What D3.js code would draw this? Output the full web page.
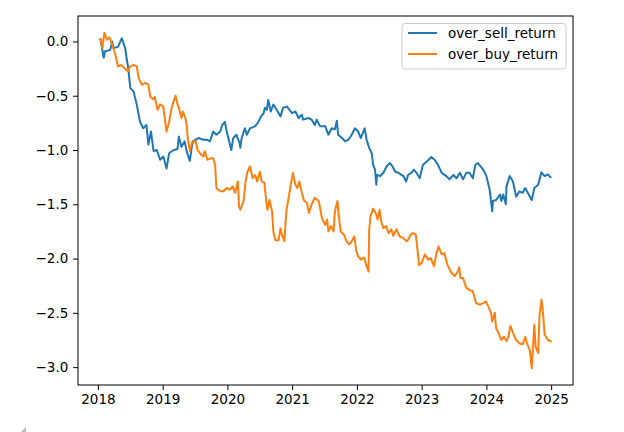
<!DOCTYPE html>
<html>
<head>
<meta charset="utf-8">
<script src="https://cdn.jsdelivr.net/npm/d3@7"></script>
<style>
  html, body { margin: 0; padding: 0; background: #fff; }
  svg { display: block; }
  text { font-family: "DejaVu Sans", sans-serif; }
</style>
</head>
<body>
<svg id="chart" width="624" height="432"></svg>
<script>
// ---- data (time in decimal years) ----
const seriesNames = ["over_sell_return", "over_buy_return"];
const xTickLabels = [2018, 2019, 2020, 2021, 2022, 2023, 2024, 2025];
const yTickValues = [-3.0, -2.5, -2.0, -1.5, -1.0, -0.5, 0.0];

const sellYears = [2018.04,2018.06,2018.09,2018.11,2018.19,2018.22,2018.24,2018.31,2018.37,2018.42,2018.45,2018.47,2018.50,2018.55,2018.60,2018.65,2018.70,2018.75,2018.78,2018.82,2018.86,2018.91,2018.96,2019.01,2019.06,2019.10,2019.17,2019.23,2019.25,2019.29,2019.34,2019.37,2019.42,2019.45,2019.47,2019.55,2019.63,2019.68,2019.73,2019.78,2019.83,2019.89,2019.92,2019.96,2019.99,2020.06,2020.09,2020.14,2020.19,2020.20,2020.22,2020.27,2020.30,2020.35,2020.43,2020.48,2020.52,2020.56,2020.58,2020.61,2020.63,2020.67,2020.71,2020.76,2020.82,2020.86,2020.92,2021.00,2021.05,2021.10,2021.15,2021.17,2021.25,2021.30,2021.35,2021.38,2021.43,2021.51,2021.56,2021.61,2021.66,2021.69,2021.71,2021.77,2021.82,2021.87,2021.92,2021.97,2022.02,2022.06,2022.12,2022.15,2022.19,2022.23,2022.25,2022.28,2022.30,2022.31,2022.36,2022.41,2022.46,2022.51,2022.55,2022.59,2022.64,2022.72,2022.76,2022.79,2022.84,2022.88,2022.92,2022.97,2023.02,2023.08,2023.15,2023.20,2023.25,2023.31,2023.38,2023.43,2023.49,2023.54,2023.59,2023.64,2023.69,2023.74,2023.79,2023.83,2023.87,2023.95,2024.00,2024.05,2024.09,2024.10,2024.15,2024.21,2024.23,2024.26,2024.30,2024.31,2024.36,2024.41,2024.46,2024.51,2024.56,2024.60,2024.64,2024.70,2024.74,2024.80,2024.85,2024.90,2024.95,2024.99];
const sellValues = [0.02,-0.05,-0.15,-0.09,-0.08,0.0,-0.06,-0.05,0.03,-0.06,-0.18,-0.25,-0.43,-0.46,-0.58,-0.74,-0.80,-0.77,-0.95,-0.83,-1.01,-1.00,-1.09,-1.06,-1.17,-1.03,-1.00,-0.99,-0.875,-0.97,-0.92,-1.01,-1.10,-0.97,-0.92,-0.89,-0.905,-0.905,-0.92,-0.83,-0.86,-0.83,-0.77,-0.74,-0.83,-1.00,-0.89,-0.86,-0.94,-0.98,-0.89,-0.80,-0.86,-0.80,-0.78,-0.74,-0.69,-0.66,-0.61,-0.63,-0.54,-0.645,-0.58,-0.63,-0.69,-0.61,-0.60,-0.66,-0.645,-0.705,-0.675,-0.72,-0.705,-0.72,-0.77,-0.72,-0.78,-0.78,-0.86,-0.80,-0.81,-0.73,-0.86,-0.89,-0.92,-0.905,-0.86,-0.80,-0.83,-0.89,-0.80,-0.905,-0.98,-1.03,-1.135,-1.18,-1.32,-1.23,-1.24,-1.21,-1.15,-1.12,-1.15,-1.20,-1.21,-1.24,-1.29,-1.23,-1.21,-1.18,-1.21,-1.26,-1.135,-1.105,-1.065,-1.09,-1.135,-1.21,-1.24,-1.27,-1.23,-1.26,-1.21,-1.27,-1.21,-1.21,-1.26,-1.135,-1.12,-1.18,-1.24,-1.365,-1.565,-1.47,-1.46,-1.41,-1.47,-1.41,-1.50,-1.335,-1.24,-1.29,-1.43,-1.38,-1.395,-1.35,-1.395,-1.46,-1.35,-1.32,-1.205,-1.24,-1.225,-1.25];

const buyYears = [2018.04,2018.07,2018.10,2018.14,2018.18,2018.22,2018.27,2018.31,2018.36,2018.41,2018.46,2018.50,2018.55,2018.60,2018.63,2018.68,2018.73,2018.78,2018.81,2018.86,2018.88,2018.92,2018.96,2019.01,2019.04,2019.06,2019.10,2019.14,2019.17,2019.20,2019.23,2019.25,2019.29,2019.31,2019.35,2019.37,2019.39,2019.42,2019.46,2019.51,2019.54,2019.59,2019.63,2019.65,2019.69,2019.75,2019.78,2019.81,2019.83,2019.89,2019.94,2019.99,2020.04,2020.08,2020.12,2020.16,2020.18,2020.20,2020.25,2020.28,2020.31,2020.35,2020.39,2020.43,2020.46,2020.50,2020.53,2020.57,2020.60,2020.62,2020.65,2020.69,2020.71,2020.74,2020.79,2020.82,2020.84,2020.88,2020.91,2020.94,2020.97,2021.01,2021.05,2021.08,2021.11,2021.15,2021.18,2021.23,2021.26,2021.30,2021.35,2021.41,2021.43,2021.46,2021.51,2021.54,2021.56,2021.60,2021.64,2021.66,2021.70,2021.72,2021.75,2021.80,2021.84,2021.88,2021.92,2021.96,2021.99,2022.02,2022.06,2022.11,2022.15,2022.18,2022.19,2022.21,2022.25,2022.29,2022.32,2022.35,2022.38,2022.41,2022.45,2022.49,2022.53,2022.56,2022.61,2022.66,2022.71,2022.77,2022.79,2022.83,2022.87,2022.91,2022.93,2022.96,2023.00,2023.05,2023.10,2023.14,2023.19,2023.23,2023.26,2023.31,2023.35,2023.40,2023.46,2023.51,2023.55,2023.58,2023.60,2023.64,2023.69,2023.74,2023.79,2023.84,2023.90,2023.95,2023.99,2024.03,2024.07,2024.09,2024.13,2024.15,2024.19,2024.23,2024.27,2024.31,2024.34,2024.37,2024.41,2024.46,2024.51,2024.56,2024.60,2024.63,2024.67,2024.70,2024.74,2024.76,2024.80,2024.82,2024.85,2024.87,2024.90,2024.92,2024.95,2024.99];
const buyValues = [0.02,-0.06,0.08,0.016,0.037,-0.03,-0.12,-0.23,-0.215,-0.245,-0.275,-0.23,-0.215,-0.23,-0.34,-0.40,-0.38,-0.40,-0.51,-0.535,-0.51,-0.63,-0.58,-0.60,-0.74,-0.83,-0.74,-0.61,-0.55,-0.50,-0.58,-0.61,-0.705,-0.645,-0.705,-0.77,-0.905,-1.01,-0.92,-0.92,-1.00,-1.04,-1.06,-1.01,-1.09,-1.075,-1.075,-1.135,-1.35,-1.38,-1.38,-1.35,-1.365,-1.335,-1.395,-1.29,-1.52,-1.55,-1.47,-1.29,-1.20,-1.15,-1.26,-1.23,-1.29,-1.20,-1.29,-1.30,-1.47,-1.55,-1.46,-1.565,-1.75,-1.83,-1.83,-1.72,-1.78,-1.84,-1.565,-1.46,-1.35,-1.21,-1.32,-1.35,-1.29,-1.395,-1.46,-1.49,-1.58,-1.50,-1.44,-1.47,-1.53,-1.63,-1.69,-1.64,-1.75,-1.70,-1.75,-1.565,-1.47,-1.61,-1.75,-1.78,-1.84,-1.87,-1.84,-1.795,-1.93,-1.98,-2.01,-1.99,-2.07,-2.12,-1.73,-1.61,-1.54,-1.58,-1.64,-1.55,-1.67,-1.72,-1.70,-1.765,-1.73,-1.79,-1.73,-1.795,-1.81,-1.84,-1.825,-1.78,-1.765,-1.78,-1.89,-2.06,-2.04,-1.96,-2.01,-1.995,-2.07,-1.95,-1.89,-1.96,-1.95,-2.06,-2.13,-2.16,-2.13,-2.08,-2.18,-2.18,-2.27,-2.29,-2.30,-2.41,-2.425,-2.41,-2.395,-2.44,-2.50,-2.58,-2.50,-2.64,-2.69,-2.75,-2.72,-2.76,-2.72,-2.62,-2.685,-2.75,-2.78,-2.79,-2.72,-2.79,-2.84,-3.01,-2.61,-2.81,-2.87,-2.53,-2.38,-2.47,-2.70,-2.72,-2.75,-2.76];

const colors = ["#1f77b4", "#ff7f0e"];

// ---- layout ----
const svg = d3.select("#chart");
const L = 78, R = 573, T = 16, B = 385;

function padded(lo, hi) { const m = (hi - lo) * 0.05; return [lo - m, hi + m]; }
const allX = sellYears.concat(buyYears);
const allY = sellValues.concat(buyValues);
const x = d3.scaleLinear().domain(padded(d3.min(allX), d3.max(allX))).range([L, R]);
const y = d3.scaleLinear().domain(padded(d3.min(allY), d3.max(allY))).range([B, T]);

svg.append("rect").attr("width", 624).attr("height", 432).attr("fill", "#fff");

// lines
const series = [
  { name: seriesNames[0], xs: sellYears, ys: sellValues, color: colors[0] },
  { name: seriesNames[1], xs: buyYears, ys: buyValues, color: colors[1] }
];
const line = d3.line().x(d => x(d[0])).y(d => y(d[1]));
const clip = svg.append("clipPath").attr("id", "clip").append("rect")
  .attr("x", L).attr("y", T).attr("width", R - L).attr("height", B - T);
series.forEach(s => {
  svg.append("path")
    .attr("clip-path", "url(#clip)")
    .attr("d", line(s.xs.map((v, i) => [v, s.ys[i]])))
    .attr("fill", "none")
    .attr("stroke", s.color)
    .attr("stroke-width", 2)
    .attr("stroke-linejoin", "round")
    .attr("stroke-linecap", "square");
});

// axes
const fontSize = 13.5;
const xAxis = d3.axisBottom(x).tickValues(xTickLabels).tickFormat(d3.format("d"))
  .tickSize(5).tickSizeOuter(0).tickPadding(4.7);
const gx = svg.append("g").attr("transform", `translate(0,${B})`).call(xAxis);
const yAxis = d3.axisLeft(y).tickValues(yTickValues).tickFormat(d3.format(".1f"))
  .tickSize(5).tickSizeOuter(0).tickPadding(4.7);
const gy = svg.append("g").attr("transform", `translate(${L},0)`).call(yAxis);
[gx, gy].forEach(g => {
  g.select(".domain").remove();
  g.selectAll("line").attr("stroke", "#000").attr("stroke-width", 1);
  g.selectAll("text").attr("fill", "#000").style("font-size", fontSize + "px")
    .style("font-family", "'DejaVu Sans', sans-serif");
});

// frame
svg.append("rect").attr("x", L).attr("y", T).attr("width", R - L).attr("height", B - T)
  .attr("fill", "none").attr("stroke", "#000").attr("stroke-width", 1);

// legend
const lg = svg.append("g");
lg.append("rect").attr("x", 402).attr("y", 23.5).attr("width", 164).attr("height", 45.5)
  .attr("rx", 3).attr("fill", "#fff").attr("fill-opacity", 0.8)
  .attr("stroke", "#cccccc").attr("stroke-width", 1);
series.forEach((s, i) => {
  const cy = 33 + i * 21;
  lg.append("line").attr("x1", 408).attr("x2", 437).attr("y1", cy).attr("y2", cy)
    .attr("stroke", s.color).attr("stroke-width", 2);
  lg.append("text").attr("x", 448).attr("y", cy).attr("dy", "0.35em")
    .style("font-size", fontSize + "px").attr("fill", "#000").text(s.name);
});

// small resize-grip mark at bottom-left
svg.append("path").attr("d", "M26,427 L26,432 L21,432 Z").attr("fill", "#bbbbbb");
</script>
</body>
</html>
